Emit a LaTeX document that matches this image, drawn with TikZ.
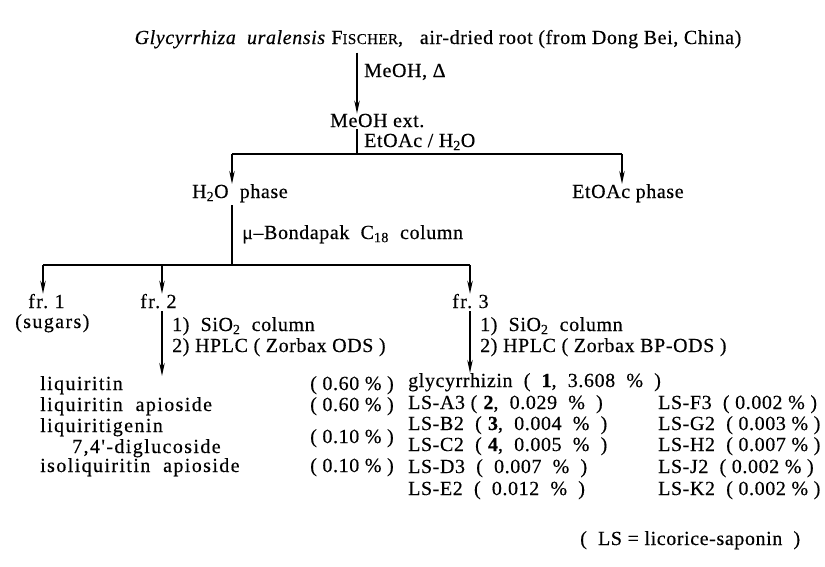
\documentclass[tikz,border=0pt]{standalone}
\usepackage{fontspec}
\setmainfont{Liberation Serif}
\newfontfamily\sparse[LetterSpace=3,FakeBold=0.4]{Liberation Serif}
\newfontfamily\wider[LetterSpace=7,FakeBold=0.4]{Liberation Serif}
\usetikzlibrary{arrows.meta}

\begin{document}
\begin{tikzpicture}[x=1pt,y=-1pt,font=\fontsize{20}{23}\selectfont\sparse,
  txt/.style={anchor=base west,inner sep=0pt},
  wide/.style={txt,font=\fontsize{20}{23}\selectfont\wider},
  ln/.style={line width=1.4pt},
  arr/.style={ln,-{Stealth[length=13pt,width=5.5pt]}}]
  \useasboundingbox (0,0) rectangle (825,566);
  % columns of the flow
  \coordinate (xa) at (357,0);
  \coordinate (xb) at (232,0);
  \coordinate (xc) at (622,0);
  \coordinate (x1) at (43,0);
  \coordinate (x2) at (162,0);
  \coordinate (x3) at (470,0);
  \coordinate (s1) at (0,154);
  \coordinate (s2) at (0,265);
  % ---- extraction
  \node[txt,anchor=base] (root) at (438,44)
    {\textit{Glycyrrhiza\ \ uralensis} F{\fontsize{15}{17}\selectfont ISCHER},\ \ \ air-dried root (from Dong Bei, China)};
  \node[txt] (c1) at (364,77) {MeOH, Δ};
  \node[txt,font=\fontsize{20}{23}\selectfont\sparse] (ext) at (330,127) {MeOH ext.};
  \node[txt] (c2) at (364,147) {EtOAc\ / H\textsubscript{2}O};
  \draw[arr,shorten <=4pt] (root.south -| xa) -- (ext.north -| xa);
  \draw[ln,shorten <=2pt] (ext.south -| xa) -- (s1 -| xa);
  \draw[ln] (s1 -| xb) -- (s1 -| xc);
  % ---- partition
  \node[txt] (water) at (192,198) {H\textsubscript{2}O\ \ phase};
  \node[txt] (etoac) at (572,198) {EtOAc\ phase};
  \draw[arr] (s1 -| xb) -- (water.north -| xb);
  \draw[arr] (s1 -| xc) -- (etoac.north -| xc);
  \node[txt] (c3) at (242,239) {μ–Bondapak\ \ C\textsubscript{18}\ \ column};
  \draw[ln,shorten <=3pt] (water.south -| xb) -- (s2 -| xb);
  \draw[ln] (s2 -| x1) -- (s2 -| x3);
  % ---- fractions
  \node[wide] (fr1) at (28,308) {fr.\ 1};
  \node[wide] (sug) at (15,328) {(sugars)};
  \node[wide] (fr2) at (140,308) {fr.\ 2};
  \node[wide] (fr3) at (452,308) {fr.\ 3};
  \foreach \f in {1,2,3}
    \draw[arr] (s2 -| x\f) -- (fr\f.north -| x\f);
  \node[txt] (c4) at (172,331) {1)\ \ SiO\textsubscript{2}\ \ column};
  \node[txt] (c5) at (172,352) {2) HPLC ( Zorbax ODS )};
  \node[txt] (c6) at (480,331) {1)\ \ SiO\textsubscript{2}\ \ column};
  \node[txt] (c7) at (480,352) {2) HPLC ( Zorbax BP-ODS )};
  % ---- fr. 2 compounds
  \node[wide] (l1) at (40,390) {liquiritin};
  \node[wide] (l2) at (40,411) {liquiritin\ \ apioside};
  \node[wide] (l3) at (40,432) {liquiritigenin};
  \node[wide] (l3b) at (72,453) {7,4'-diglucoside};
  \node[wide] (l4) at (40,472) {isoliquiritin\ \ apioside};
  \foreach \v/\y [count=\i] in {0.60/390,0.60/411,0.10/443,0.10/472}
    \node[txt,anchor=base east] (p\i) at (394,\y) {( \v\ \% )};
  \draw[arr,shorten <=3pt] (fr2.south -| x2) -- (l1.north -| x2);
  % ---- fr. 3 compounds
  \node[txt] (g1) at (408,387) {glycyrrhizin\ \ (\ \ \textbf{1},\ \ 3.608\ \ \%\ \ )};
  \draw[arr,shorten <=3pt] (fr3.south -| x3) -- (g1.north -| x3);
  \foreach \n/\v/\y in {A3/{(\ \textbf{2},\ \ 0.029\ \ \%\ \ )}/409,B2/{\ (\ \textbf{3},\ \ 0.004\ \ \%\ \ )}/430,
      C2/{\ (\ \textbf{4},\ \ 0.005\ \ \%\ \ )}/451,D3/{\ (\ \ 0.007\ \ \%\ \ )}/473,E2/{\ (\ \ 0.012\ \ \%\ \ )}/495}
    \node[txt] (ls\n) at (408,\y) {LS-\n\ \v};
  \foreach \n/\v/\y in {F3/0.002/409,G2/0.003/430,H2/0.007/451,J2/0.002/473,K2/0.002/495}
    \node[txt] (ls\n) at (658,\y) {LS-\n\ \ ( \v\ \% )};
  \node[txt] (note) at (580,545) {(\ \ LS = licorice-saponin\ \ )};
\end{tikzpicture}
\end{document}
